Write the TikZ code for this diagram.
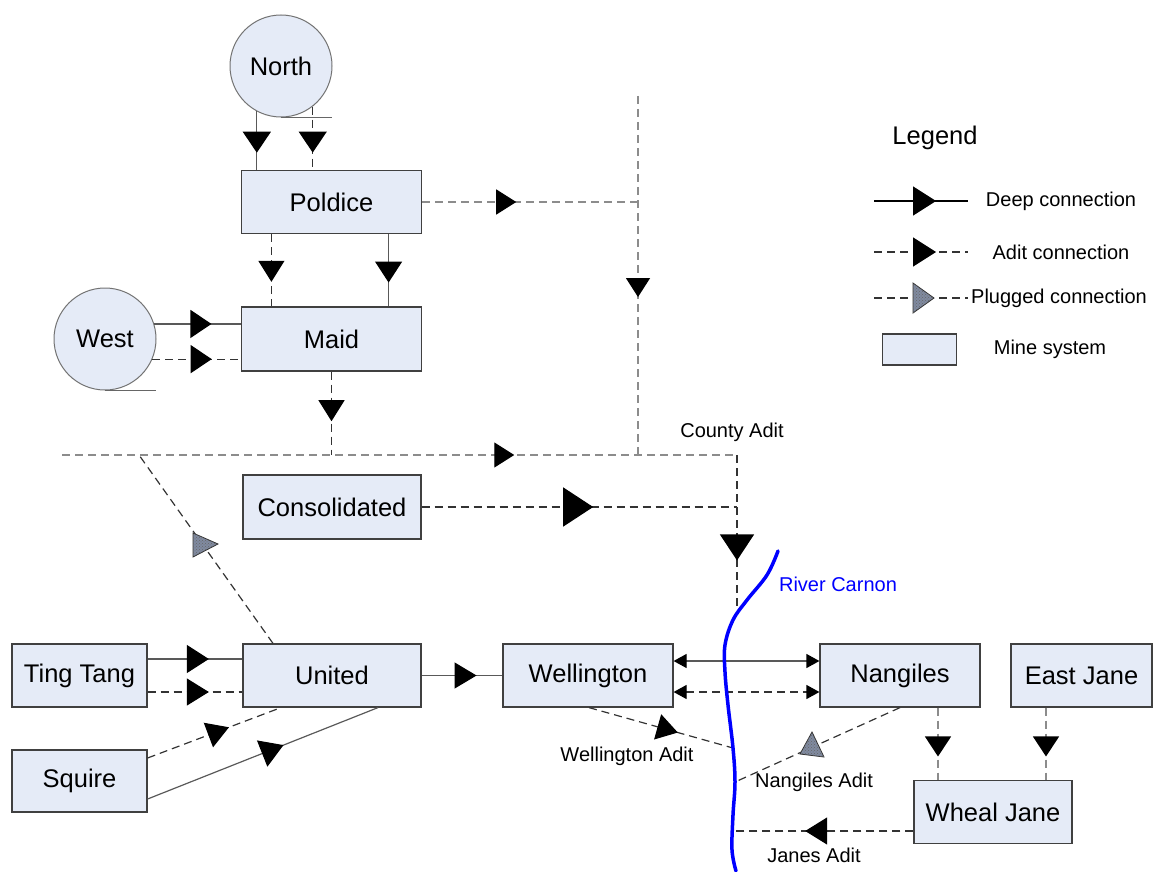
\documentclass[tikz,border=0pt]{standalone}
\usepackage{fontspec}
\setmainfont{Liberation Sans}
\usetikzlibrary{arrows.meta,decorations.markings,patterns,calc}
\definecolor{boxfill}{RGB}{229,235,247}
\definecolor{boxline}{RGB}{64,64,64}
\definecolor{plugc}{RGB}{128,138,160}
\newcommand\mynodefont{\fontsize{25.5}{30}\selectfont}
\newcommand\mylabfont{\fontsize{20}{24}\selectfont}
\begin{document}
\begin{tikzpicture}[x=1pt,y=-1pt,
  mine/.style={draw=boxline, fill=boxfill, line width=1.2pt, minimum height=63pt, inner sep=0pt, font=\mynodefont},
  minec/.style={circle, draw=black!55, fill=boxfill, line width=1pt, minimum size=102pt, inner sep=0pt, font=\mynodefont},
  lab/.style={font=\mylabfont, inner sep=0pt},
  deep/.style={draw=black!65, line width=1.2pt},
  adit/.style={draw=black!80, line width=1.2pt, dash pattern=on 8pt off 5pt},
  aditg/.style={adit, draw=black!45},
  tangent/.style={draw=black!60, line width=1pt},
  midtip/.style args={#1:#2x#3}{postaction={decorate, decoration={markings, mark=at position #1 with {\arrow{Triangle[width=#2pt,length=#3pt,color=black]}}}}},
  dbl/.style={{Triangle[width=14pt,length=13pt,color=black]}-{Triangle[width=14pt,length=13pt,color=black]}},
  plug/.style={fill=plugc, draw=black!80, line width=0.8pt, postaction={pattern=crosshatch dots, pattern color=black!60}},
  river/.style={draw=blue, line width=3.5pt, line cap=round}
]
\useasboundingbox (0,0) rectangle (1153,872);

% ---------- mine systems ----------
\node[minec] (North) at (281,66) {North};
\node[minec] (West) at (105,339) {West};
\node[mine, minimum width=180pt] (Poldice) at (331.5,202) {Poldice};
\node[mine, minimum width=180pt, minimum height=64pt] (Maid) at (331.5,339) {Maid};
\node[mine, minimum width=178pt, minimum height=64pt] (Cons) at (332,507) {Consolidated};
\node[mine, minimum width=135pt] (Ting) at (79.5,675.5) {Ting Tang};
\node[mine, minimum width=178pt] (United) at (332,675.5) {United};
\node[mine, minimum width=135pt, minimum height=62pt] (Squire) at (79.5,781) {Squire};
\node[mine, minimum width=170pt] (Well) at (588,675.5) {Wellington};
\node[mine, minimum width=160pt] (Nang) at (900,675.5) {Nangiles};
\node[mine, minimum width=141pt] (EJ) at (1081.5,675.5) {East Jane};
\node[mine, minimum width=158pt] (WJ) at (993,812) {Wheal Jane};

% ---------- junction coordinates ----------
\coordinate (vTop) at (638,96);
\coordinate (vJ) at (638,202);
\coordinate (vBot) at (638,455);
\coordinate (adL) at (62,455);
\coordinate (adM) at (331.5,455);
\coordinate (adD) at (139,455);
\coordinate (adR) at (737,455);
\coordinate (cJ) at (737,507);
\coordinate (rC) at (737,608);
\coordinate (rW) at (733,748);
\coordinate (rN) at (735,782);
\coordinate (rJ) at (733,831);

% ---------- North / West ----------
\draw[tangent] (North.south) -- ++(51,0);
\draw[tangent] (West.south) -- ++(51,0);
\draw[deep, midtip={0.706:28x21}] (North.-118) -- (North.-118 |- Poldice.north);
\draw[adit, midtip={0.727:28x21}] (North.-52.6) -- (North.-52.6 |- Poldice.north);
\draw[deep, midtip={0.66:28x21}] (West.17) -- (West.17 -| Maid.west);
\draw[adit, midtip={0.67:28x21}] (West.-23) -- (West.-23 -| Maid.west);

% ---------- Poldice / Maid ----------
\draw[adit, midtip={0.66:26x21}] ([xshift=30.5pt]Poldice.south west) -- ([xshift=30.5pt]Maid.north west);
\draw[deep, midtip={0.67:27x21}] ([xshift=-33.5pt]Poldice.south east) -- ([xshift=-33.5pt]Maid.north east);
\draw[aditg, midtip={0.436:25x20}] (Poldice.east) -- (vJ);
\draw[aditg, midtip={0.56:24x19}] (vTop) -- (vBot);
\draw[adit, midtip={0.595:26x21}] (Maid.south) -- (adM);

% ---------- County Adit ----------
\draw[aditg, midtip={0.67:25x20}] (adL) -- (adR);
\draw[adit, midtip={0.689:34x26}] (adR) -- (rC);
\draw[adit, midtip={0.544:39x30}] (Cons.east) -- (cJ);
\draw[adit] ([xshift=-59pt]United.north) -- (adD);
\filldraw[plug] (193,533) -- (218,544) -- (193,557) -- cycle;

% ---------- United group ----------
\draw[deep, midtip={0.646:28x22}] ([yshift=16.5pt]Ting.east) -- ([yshift=16.5pt]United.west);
\draw[adit, midtip={0.646:27x22}] ([yshift=-16.5pt]Ting.east) -- ([yshift=-16.5pt]United.west);
\draw[adit, midtip={0.61:26x22}] ([yshift=23pt]Squire.east) -- ([xshift=-51pt]United.south);
\draw[deep, midtip={0.59:28x23}] ([yshift=-18pt]Squire.east) -- ([xshift=46pt]United.south);
\draw[deep, midtip={0.68:26x22}] (United.east) -- (Well.west);

% ---------- Wellington / Nangiles ----------
\draw[deep, dbl] ([yshift=14.5pt]Well.east) -- ([yshift=14.5pt]Nang.west);
\draw[adit, dbl] ([yshift=-16.5pt]Well.east) -- ([yshift=-16.5pt]Nang.west);
\draw[adit, midtip={0.617:26x21}] ([xshift=1pt]Well.south) -- (rW);
\draw[adit] (Nang.south) -- (rN);
\filldraw[plug] (800,754) -- (812,732) -- (824,757) -- cycle;
\draw[adit, midtip={0.60:27x22}] ([yshift=-19pt]WJ.west) -- (rJ);
\coordinate (nj) at ([xshift=38pt]Nang.south);
\coordinate (ej) at ([xshift=-35.5pt]EJ.south);
\draw[aditg, midtip={0.676:26x20}] (nj) -- (nj |- WJ.north);
\draw[aditg, midtip={0.676:26x20}] (ej) -- (ej |- WJ.north);

% ---------- river ----------
\draw[river] plot[smooth, tension=0.6] coordinates {(778,551) (767,575) (747,600) (733,620) (725,645) (725,672) (728,705) (rW) (rN) (733,815) (732,850) (736,871)};

% ---------- labels ----------
\node[lab] (lCounty) at (732,432) {County Adit};
\node[lab, text=blue] (lRiver) at (838,584) {River Carnon};
\node[lab] (lWA) at (627,756) {Wellington Adit};
\node[lab] (lNA) at (814,782) {Nangiles Adit};
\node[lab] (lJA) at (814,855) {Janes Adit};

% ---------- legend ----------
\node[font=\mynodefont, inner sep=0pt] (lLeg) at (935,138) {Legend};
\coordinate (lg1a) at (874,201); \coordinate (lg1b) at (968,201);
\coordinate (lg2a) at (874,252); \coordinate (lg2b) at (968,252);
\coordinate (lg3a) at (874,298); \coordinate (lg3b) at (968,298);
\draw[deep, draw=black, midtip={0.66:29x23}] (lg1a) -- (lg1b);
\draw[adit, midtip={0.66:29x23}] (lg2a) -- (lg2b);
\draw[adit] (lg3a) -- (lg3b);
\filldraw[plug] (913,283) -- (934,298) -- (913,313) -- cycle;
\node[lab] (lDeep) at (1061,201) {Deep connection};
\node[lab] (lAdit) at (1061,252) {Adit connection};
\node[lab, anchor=west] (lPlug) at (971,298) {Plugged connection};
\node[mine, minimum width=74pt, minimum height=31pt] (LBox) at (919.5,349.5) {};
\node[lab] (lMine) at (1050,349) {Mine system};
\end{tikzpicture}
\end{document}
